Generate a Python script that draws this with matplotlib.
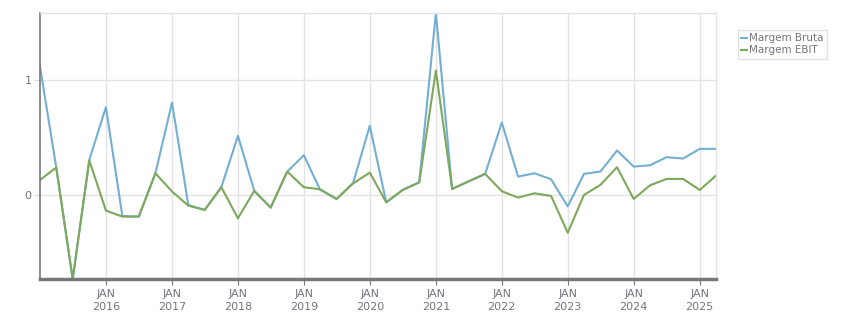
import matplotlib
matplotlib.use('Agg')
import matplotlib.pyplot as plt
import pandas as pd

# quarterly margins, Jan 2015 .. Apr 2025
datas = pd.date_range('2015-01-01', periods=42, freq='QS')

margem_bruta = [1.116, 0.238, -0.73, 0.305, 0.762, -0.183, -0.188, 0.188,
                0.803, -0.087, -0.13, 0.067, 0.513, 0.038, -0.11, 0.203,
                0.345, 0.045, -0.035, 0.105, 0.60, -0.064, 0.043, 0.11,
                1.58, 0.052, 0.118, 0.183, 0.629, 0.159, 0.188, 0.136,
                -0.10, 0.183, 0.203, 0.386, 0.246, 0.258, 0.328, 0.316,
                0.40, 0.40]
margem_ebit = [0.13, 0.238, -0.73, 0.30, -0.136, -0.188, -0.188, 0.188,
               0.03, -0.093, -0.13, 0.067, -0.203, 0.035, -0.11, 0.203,
               0.067, 0.049, -0.035, 0.10, 0.194, -0.064, 0.043, 0.11,
               1.081, 0.052, 0.118, 0.183, 0.032, -0.023, 0.014, -0.009,
               -0.328, 0.0, 0.087, 0.241, -0.035, 0.084, 0.139, 0.139,
               0.043, 0.168]

anos = list(range(2016, 2026))

txt = '#76747f'
fig = plt.figure(figsize=(8.51, 3.13), dpi=100)
ax = fig.add_axes([40/851, 34/313, 676/851, 266/313])

ax.plot(datas, margem_bruta, color='#74afd3', lw=1.5, label='Margem Bruta')
ax.plot(datas, margem_ebit, color='#7ea85c', lw=1.5, label='Margem EBIT')

ax.set_xlim(datas[0], datas[-1])
ax.set_ylim(min(margem_bruta + margem_ebit), max(margem_bruta + margem_ebit))

ticks = [pd.Timestamp(str(a) + '-01-01') for a in anos]
ax.set_xticks(ticks)
ax.set_xticklabels(['JAN\n' + str(a) for a in anos], color=txt, fontsize=8, linespacing=1.4)
ax.set_yticks([0, 1])
ax.set_yticklabels(['0', '1'], color=txt, fontsize=8)
ax.tick_params(axis='x', length=4, color='#777777', pad=3)
ax.tick_params(axis='y', length=4, color='#dddddd', pad=2)

ax.grid(True, color='#e3e3e3', lw=1)
ax.set_axisbelow(True)
for s in ['top', 'right']:
    ax.spines[s].set_color('#e3e3e3')
    ax.spines[s].set_linewidth(1)
ax.spines['left'].set_color('#777777')
ax.spines['left'].set_linewidth(1.2)
ax.spines['bottom'].set_color('#777777')
ax.spines['bottom'].set_linewidth(2.5)

leg = ax.legend(loc='upper left', bbox_to_anchor=(1.032, 0.935), fontsize=7.5,
                frameon=True, fancybox=False, handlelength=0.6, handletextpad=0.2,
                borderpad=0.3, labelspacing=0.2, borderaxespad=0)
leg.get_frame().set_edgecolor('#dddddd')
leg.get_frame().set_linewidth(1)
for t in leg.get_texts():
    t.set_color(txt)

plt.savefig('out.png', dpi=100)
